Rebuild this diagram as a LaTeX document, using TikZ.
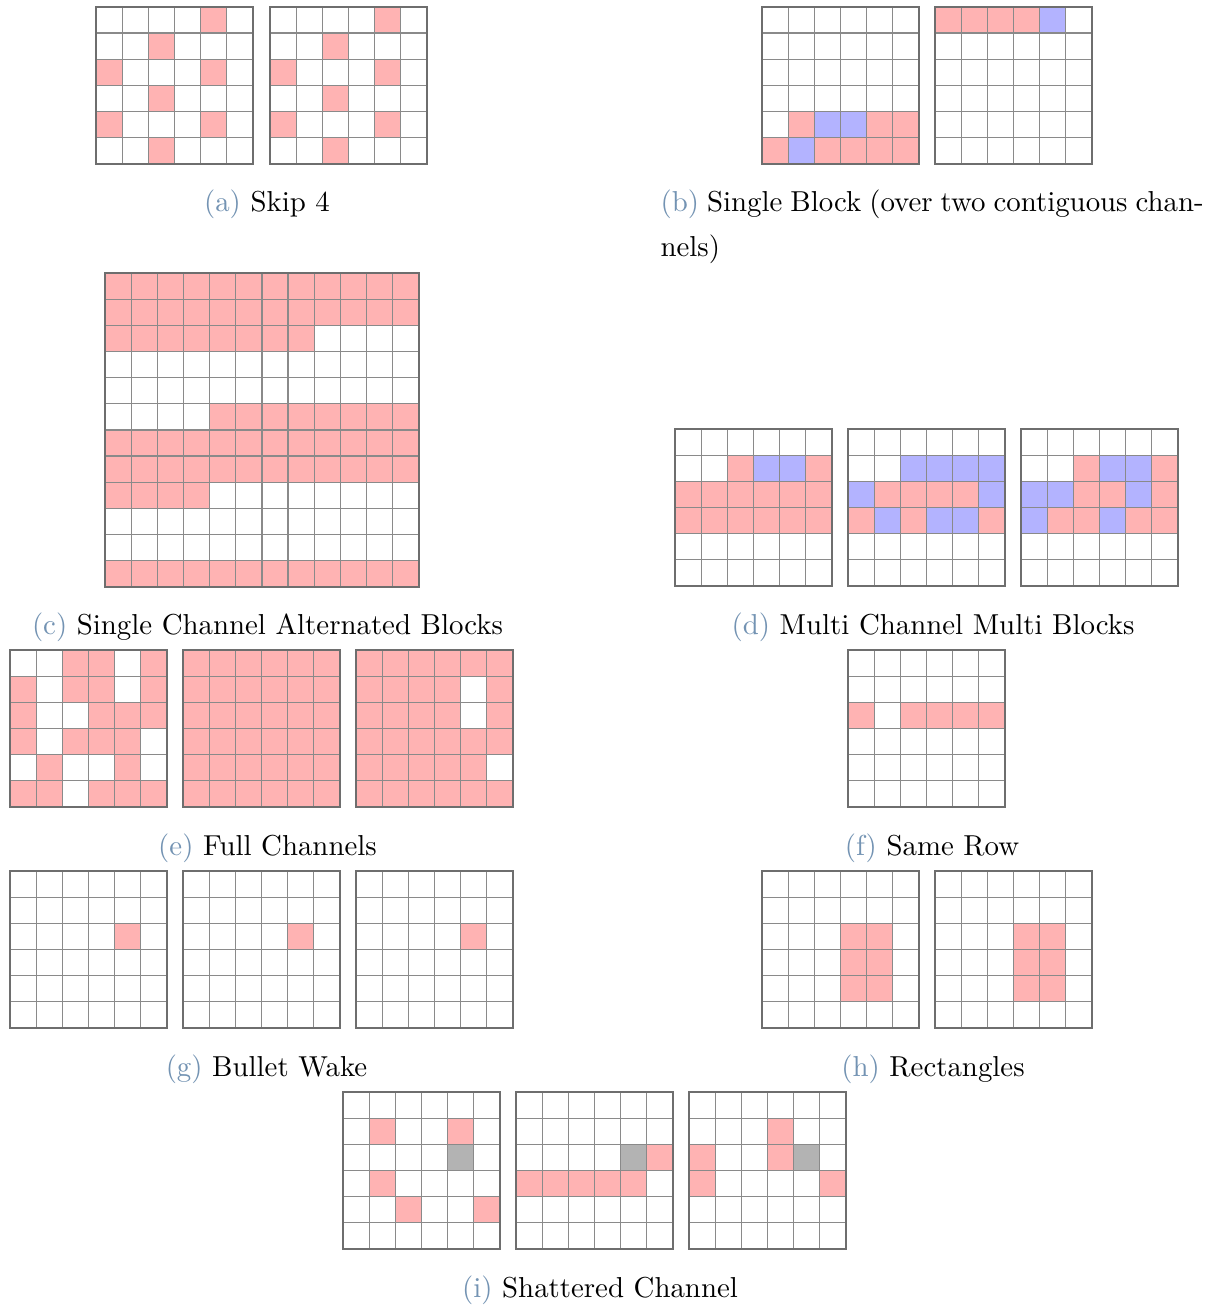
\documentclass[tikz,border=0pt]{standalone}
\definecolor{pk}{HTML}{FFB3B3}
\definecolor{bl}{HTML}{B3B3FF}
\definecolor{gy}{HTML}{B3B3B3}
\definecolor{lab}{HTML}{7393B3}
\definecolor{gl}{HTML}{8A8A8A}
\definecolor{fr}{HTML}{6E6E6E}
\tikzset{
  gridline/.style={draw=gl, line width=0.45pt},
  gridframe/.style={draw=fr, line width=0.6pt},
  captext/.style={anchor=base, inner sep=0pt, font=\fontsize{10}{15.6}\selectfont},
}
% #1,#2 top-left (px), #3 size, #4 list x/y/w/h/colour
\newcommand{\cellgrid}[4]{%
  \begin{scope}[shift={(#1,#2)}, x=9.066pt, y=-9.066pt]
    \foreach \cx/\cy/\cw/\ch/\cc in {#4}{\fill[\cc] (\cx,\cy) rectangle ++(\cw,\ch);}
    \pgfmathtruncatemacro{\nm}{#3-1}
    \foreach \i in {1,...,\nm}{
      \draw[gridline] (\i,0) -- (\i,#3);
      \draw[gridline] (0,\i) -- (#3,\i);
    }
    \draw[gridframe] (0,0) rectangle (#3,#3);
  \end{scope}}
\begin{document}
\begin{tikzpicture}[x=0.3467pt, y=-0.3467pt]
\useasboundingbox (0,0) rectangle (1216,1306);
\fill[white] (0,0) rectangle (1216,1306);
% (a)
\cellgrid{96}{7}{6}{4/0/1/1/pk, 2/1/1/1/pk, 0/2/1/1/pk, 4/2/1/1/pk, 2/3/1/1/pk, 0/4/1/1/pk, 4/4/1/1/pk, 2/5/1/1/pk}
\cellgrid{270}{7}{6}{4/0/1/1/pk, 2/1/1/1/pk, 0/2/1/1/pk, 4/2/1/1/pk, 2/3/1/1/pk, 0/4/1/1/pk, 4/4/1/1/pk, 2/5/1/1/pk}
\node[captext] (capa) at (267,212) {\textcolor{lab}{(a)} Skip 4};
% (b)
\cellgrid{762}{7}{6}{1/4/1/1/pk, 2/4/2/1/bl, 4/4/2/1/pk, 0/5/1/1/pk, 1/5/1/1/bl, 2/5/4/1/pk}
\cellgrid{935}{7}{6}{0/0/4/1/pk, 4/0/1/1/bl}
\node[captext, anchor=base west, text width=188.3pt, align=justify] (capb) at (660,212)
  {\textcolor{lab}{(b)} Single Block (over two contiguous chan-\linebreak nels)};
% (c)
\cellgrid{105}{273}{12}{0/0/12/2/pk, 0/2/8/1/pk, 4/5/8/1/pk, 0/6/12/2/pk, 0/8/4/1/pk, 0/11/12/1/pk}
\node[captext] (capc) at (267.5,634) {\textcolor{lab}{(c)} Single Channel Alternated Blocks};
% (d)
\cellgrid{675}{429}{6}{2/1/1/1/pk, 3/1/2/1/bl, 5/1/1/1/pk, 0/2/6/2/pk}
\cellgrid{848}{429}{6}{2/1/4/1/bl, 0/2/1/1/bl, 1/2/4/1/pk, 5/2/1/1/bl, 0/3/1/1/pk, 1/3/1/1/bl, 2/3/1/1/pk, 3/3/2/1/bl, 5/3/1/1/pk}
\cellgrid{1021}{429}{6}{2/1/1/1/pk, 3/1/2/1/bl, 5/1/1/1/pk, 0/2/2/1/bl, 2/2/2/1/pk, 4/2/1/1/bl, 5/2/1/1/pk, 0/3/1/1/bl, 1/3/2/1/pk, 3/3/1/1/bl, 4/3/2/1/pk}
\node[captext] (capd) at (933,634) {\textcolor{lab}{(d)} Multi Channel Multi Blocks};
% (e)
\cellgrid{10}{650}{6}{2/0/2/1/pk, 5/0/1/1/pk, 0/1/1/1/pk, 2/1/2/1/pk, 5/1/1/1/pk, 0/2/1/1/pk, 3/2/3/1/pk, 0/3/1/1/pk, 2/3/3/1/pk, 1/4/1/1/pk, 4/4/1/1/pk, 0/5/2/1/pk, 3/5/3/1/pk}
\cellgrid{183}{650}{6}{0/0/6/6/pk}
\cellgrid{356}{650}{6}{0/0/6/6/pk, 4/1/1/2/white, 5/4/1/1/white}
\node[captext] (cape) at (267.5,855) {\textcolor{lab}{(e)} Full Channels};
% (f)
\cellgrid{848}{650}{6}{0/2/1/1/pk, 2/2/4/1/pk}
\node[captext] (capf) at (932,855) {\textcolor{lab}{(f)} Same Row};
% (g)
\cellgrid{10}{871}{6}{4/2/1/1/pk}
\cellgrid{183}{871}{6}{4/2/1/1/pk}
\cellgrid{356}{871}{6}{4/2/1/1/pk}
\node[captext] (capg) at (266.5,1076) {\textcolor{lab}{(g)} Bullet Wake};
% (h)
\cellgrid{762}{871}{6}{3/2/2/3/pk}
\cellgrid{935}{871}{6}{3/2/2/3/pk}
\node[captext] (caph) at (933,1076) {\textcolor{lab}{(h)} Rectangles};
% (i)
\cellgrid{343}{1092}{6}{1/1/1/1/pk, 4/1/1/1/pk, 4/2/1/1/gy, 1/3/1/1/pk, 2/4/1/1/pk, 5/4/1/1/pk}
\cellgrid{516}{1092}{6}{4/2/1/1/gy, 5/2/1/1/pk, 0/3/5/1/pk}
\cellgrid{689}{1092}{6}{3/1/1/1/pk, 0/2/1/1/pk, 3/2/1/1/pk, 4/2/1/1/gy, 0/3/1/1/pk, 5/3/1/1/pk}
\node[captext] (capi) at (600,1297) {\textcolor{lab}{(i)} Shattered Channel};
\end{tikzpicture}
\end{document}
